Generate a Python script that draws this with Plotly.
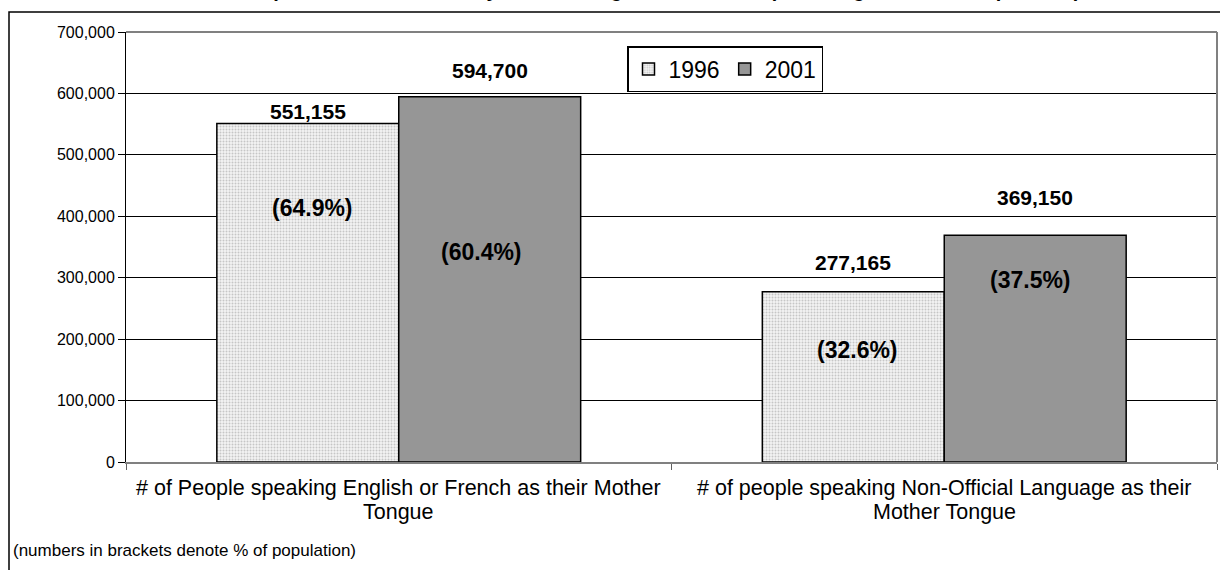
import plotly.graph_objects as go

# ---------------- data ----------------
categories = [
    "# of People speaking English or French as their Mother<br>Tongue",
    "# of people speaking Non-Official Language as their<br>Mother Tongue",
]
series_names = ["1996", "2001"]
values_1996 = [551155, 277165]
values_2001 = [594700, 369150]
pct_1996 = ["(64.9%)", "(32.6%)"]
pct_2001 = ["(60.4%)", "(37.5%)"]
y_tick_values = [0, 100000, 200000, 300000, 400000, 500000, 600000, 700000]

title_text = ("Peel Population Distribution by Mother Tongue, 1996 - 2001 "
              "(Including % of Total Population)")
footnote_text = "(numbers in brackets denote % of population)"

# ---------------- label placement (style) ----------------
value_label_yshift_1996 = [12, 29]
value_label_yshift_2001 = [26, 38]
pct_label_y_1996 = [413500, 182300]
pct_label_y_2001 = [341900, 296300]
pct_label_xshift_1996 = [5, 4]
pct_label_xshift_2001 = [-8, -5]
category_line_px = [488, 512]

FONT = "Arial, Liberation Sans, sans-serif"
BARGAP = 0.333
W, H = 1220, 570
L, R, T, B = 126, 3, 32, 108
plot_w = W - L - R
plot_h = H - T - B

def px_x(px):
    return (px - L) / plot_w

def px_y(py):
    return (H - B - py) / plot_h

fig = go.Figure()
fig.add_trace(go.Bar(
    name=series_names[0], x=list(range(len(categories))), y=values_1996,
    marker=dict(color="#eeeeee", line=dict(color="black", width=1.5),
                pattern=dict(shape=".", fgcolor="#9a9a9a", bgcolor="#f2f2f2",
                             size=3, solidity=0.35)),
    hoverinfo="skip",
))
fig.add_trace(go.Bar(
    name=series_names[1], x=list(range(len(categories))), y=values_2001,
    marker=dict(color="#969696", line=dict(color="black", width=1.5)),
    hoverinfo="skip",
))

half = (1 - BARGAP) / 4.0  # centre offset of each bar within the group
annotations = []
for i in range(len(categories)):
    for off, vals, shifts, pcts, pys, pxs in [
        (-half, values_1996, value_label_yshift_1996, pct_1996, pct_label_y_1996, pct_label_xshift_1996),
        (half, values_2001, value_label_yshift_2001, pct_2001, pct_label_y_2001, pct_label_xshift_2001),
    ]:
        annotations.append(dict(
            x=i + off, y=vals[i], xref="x", yref="y", text=f"<b>{vals[i]:,}</b>",
            showarrow=False, yanchor="middle", yshift=shifts[i],
            font=dict(family=FONT, size=21, color="black")))
        annotations.append(dict(
            x=i + off, y=pys[i], xref="x", yref="y", text=f"<b>{pcts[i]}</b>",
            showarrow=False, yanchor="middle", xshift=pxs[i],
            font=dict(family=FONT, size=23, color="black")))
    # category label lines
    for line_txt, ly in zip(categories[i].split("<br>"), category_line_px):
        annotations.append(dict(
            x=i, y=px_y(ly), xref="x", yref="paper", text=line_txt,
            showarrow=False, xanchor="center", yanchor="middle",
            font=dict(family=FONT, size=21.5, color="black")))

annotations.append(dict(
    x=px_x(640), y=px_y(3), xref="paper", yref="paper", text=f"<b>{title_text}</b>",
    showarrow=False, xanchor="center", yanchor="bottom",
    font=dict(family=FONT, size=20, color="black")))
annotations.append(dict(
    x=px_x(11), y=px_y(550), xref="paper", yref="paper", text=footnote_text,
    showarrow=False, xanchor="left", yanchor="middle",
    font=dict(family=FONT, size=17, color="black")))

shapes = [
    # outer chart border
    dict(type="rect", xref="paper", yref="paper",
         x0=px_x(9), x1=px_x(1224), y0=px_y(580), y1=px_y(12),
         line=dict(color="black", width=1.5), fillcolor="rgba(0,0,0,0)", layer="above"),
    # plot area grey border (top / right)
    dict(type="line", xref="paper", yref="paper", x0=0, x1=1, y0=1, y1=1,
         line=dict(color="#808080", width=2)),
    dict(type="line", xref="paper", yref="paper", x0=1, x1=1, y0=0, y1=1,
         line=dict(color="#808080", width=2)),
]

# category boundaries for the x-axis tick marks
boundaries = [k - 0.5 for k in range(len(categories) + 1)]

fig.update_layout(
    width=W, height=H, autosize=False,
    margin=dict(l=L, r=R, t=T, b=B, pad=0),
    paper_bgcolor="white", plot_bgcolor="white",
    barmode="group", bargap=BARGAP, bargroupgap=0,
    font=dict(family=FONT, size=16, color="black"),
    showlegend=True,
    legend=dict(orientation="h", x=px_x(627), y=px_y(46), xanchor="left", yanchor="top",
                bgcolor="white", bordercolor="black", borderwidth=1.5,
                font=dict(family=FONT, size=23, color="black"),
                itemwidth=30, traceorder="normal"),
    xaxis=dict(
        tickmode="array", tickvals=boundaries,
        showticklabels=False,
        range=[-0.5, len(categories) - 0.5],
        showline=True, linecolor="#808080", linewidth=1.5,
        ticks="outside", ticklen=6, tickcolor="#606060", tickwidth=1,
        showgrid=False, zeroline=False,
    ),
    yaxis=dict(
        range=[0, 700000], tickmode="array", tickvals=y_tick_values, tickformat=",",
        showline=True, linecolor="black", linewidth=1,
        ticks="outside", ticklen=7, tickcolor="black",
        showgrid=True, gridcolor="black", gridwidth=1, zeroline=False,
        tickfont=dict(family=FONT, size=16, color="black"),
    ),
    annotations=annotations,
    shapes=shapes,
)

fig.write_html("out.html", config={"displayModeBar": False},
               post_script="document.body.style.margin='0px';document.body.style.overflow='hidden';")
